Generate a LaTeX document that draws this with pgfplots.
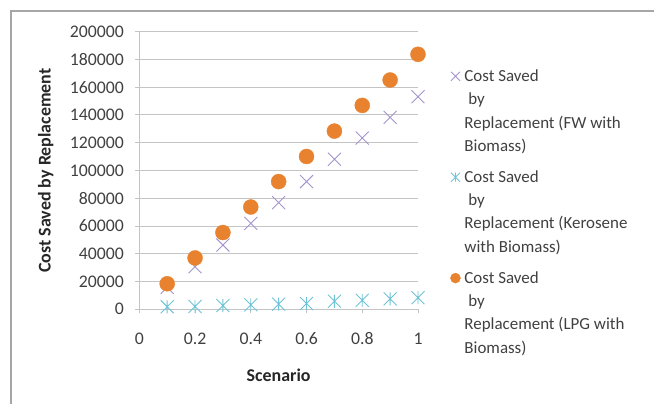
\documentclass[border=0pt]{standalone}
\usepackage{fontspec}
\setmainfont{Carlito}
\usepackage{pgfplots}
\pgfplotsset{compat=1.18}
\definecolor{fwc}{HTML}{A394CC}
\definecolor{kerc}{HTML}{6FC3D6}
\definecolor{lpgc}{HTML}{E8822E}
\definecolor{gridc}{HTML}{C4C4C4}
\definecolor{framec}{HTML}{A6A6A6}
\definecolor{txtc}{HTML}{404040}
\pgfdeclareplotmark{xstar}{%
 \pgfpathmoveto{\pgfqpoint{-\pgfplotmarksize}{-\pgfplotmarksize}}\pgfpathlineto{\pgfqpoint{\pgfplotmarksize}{\pgfplotmarksize}}%
 \pgfpathmoveto{\pgfqpoint{-\pgfplotmarksize}{\pgfplotmarksize}}\pgfpathlineto{\pgfqpoint{\pgfplotmarksize}{-\pgfplotmarksize}}%
 \pgfpathmoveto{\pgfqpoint{0pt}{-\pgfplotmarksize}}\pgfpathlineto{\pgfqpoint{0pt}{\pgfplotmarksize}}%
 \pgfusepathqstroke}
\pgfdeclareplotmark{xcross}{%
 \pgfpathmoveto{\pgfqpoint{-\pgfplotmarksize}{-\pgfplotmarksize}}\pgfpathlineto{\pgfqpoint{\pgfplotmarksize}{\pgfplotmarksize}}%
 \pgfpathmoveto{\pgfqpoint{-\pgfplotmarksize}{\pgfplotmarksize}}\pgfpathlineto{\pgfqpoint{\pgfplotmarksize}{-\pgfplotmarksize}}%
 \pgfusepathqstroke}
\pgfplotsset{mylegimg/.style={legend image code/.code={%
  \pgfpathrectangle{\pgfpoint{-5bp}{-35bp}}{\pgfpoint{13bp}{70bp}}\pgfusepath{}%
  \draw[##1, mark size=#1] plot coordinates {(0bp,35bp)};}}}
\begin{document}
\begin{tikzpicture}[x=1bp,y=1bp]
\useasboundingbox (0,0) rectangle (654,403);
\draw[framec, line width=1.5bp] (11,-2) -- (11,392) -- (656,392);
\begin{axis}[
  at={(139.3bp,93.7bp)}, anchor=south west,
  scale only axis, width=278.7bp, height=277.6bp,
  xmin=0, xmax=1, ymin=0, ymax=200000,
  axis x line=bottom, axis y line=left,
  axis line style={-, gridc, line width=1bp},
  xtick={0,0.2,0.4,0.6,0.8,1},
  ytick={0,20000,...,200000},
  ymajorgrids, major grid style={gridc, line width=1bp},
  tick align=outside, major tick length=4bp,
  tick style={gridc, line width=1bp},
  scaled ticks=false,
  /pgf/number format/.cd, fixed, set thousands separator={}, assume math mode=true, /pgfplots/.cd,
  ticklabel style={font=\fontsize{17.8}{20}\selectfont, text=txtc},
  xticklabel style={/pgf/number format/precision=1, yshift=-16bp},
  yticklabel style={xshift=-8bp},
  xlabel={Scenario}, ylabel={Cost Saved by Replacement},
  xlabel style={font=\fontsize{18}{22}\selectfont\bfseries, text=black!85, at={(axis description cs:0.5,-0.2367)}, anchor=center},
  ylabel style={font=\fontsize{18}{22}\selectfont\bfseries, text=black!85, at={(axis description cs:-0.3358,0.5)}, anchor=center},
  clip=false,
  legend style={draw=none, fill=none, at={(axis description cs:1.105,0.874)}, anchor=north west,
    font=\fontsize{17}{23.3}\selectfont, text=txtc,
    nodes={align=left, anchor=west, inner sep=1bp},
    row sep=16bp, cells={anchor=west}},
]
\addplot[only marks, mark=xcross, mark size=6.5bp, fwc, line width=0.9bp, mylegimg=4.5bp]
  coordinates {(0.1,15800) (0.2,30700) (0.3,46300) (0.4,61900) (0.5,76800) (0.6,92000) (0.7,108100) (0.8,123400) (0.9,138300) (1.0,153200)};
\addlegendentry{Cost Saved\\\ by\\Replacement (FW with\\Biomass)}
\addplot[only marks, mark=xstar, mark size=6.5bp, kerc, line width=0.9bp, mylegimg=4.5bp]
  coordinates {(0.1,1800) (0.2,2000) (0.3,2700) (0.4,3200) (0.5,3700) (0.6,4200) (0.7,5800) (0.8,6500) (0.9,7500) (1.0,8400)};
\addlegendentry{Cost Saved\\\ by\\Replacement (Kerosene\\with Biomass)}
\addplot[only marks, mark=*, mark size=7.5bp, lpgc, mark options={draw=lpgc, fill=lpgc}, mylegimg=5bp]
  coordinates {(0.1,18400) (0.2,37000) (0.3,55300) (0.4,73700) (0.5,92000) (0.6,110100) (0.7,128400) (0.8,146900) (0.9,165200) (1.0,183700)};
\addlegendentry{Cost Saved\\\ by\\Replacement (LPG with\\Biomass)}
\end{axis}
\end{tikzpicture}
\end{document}
